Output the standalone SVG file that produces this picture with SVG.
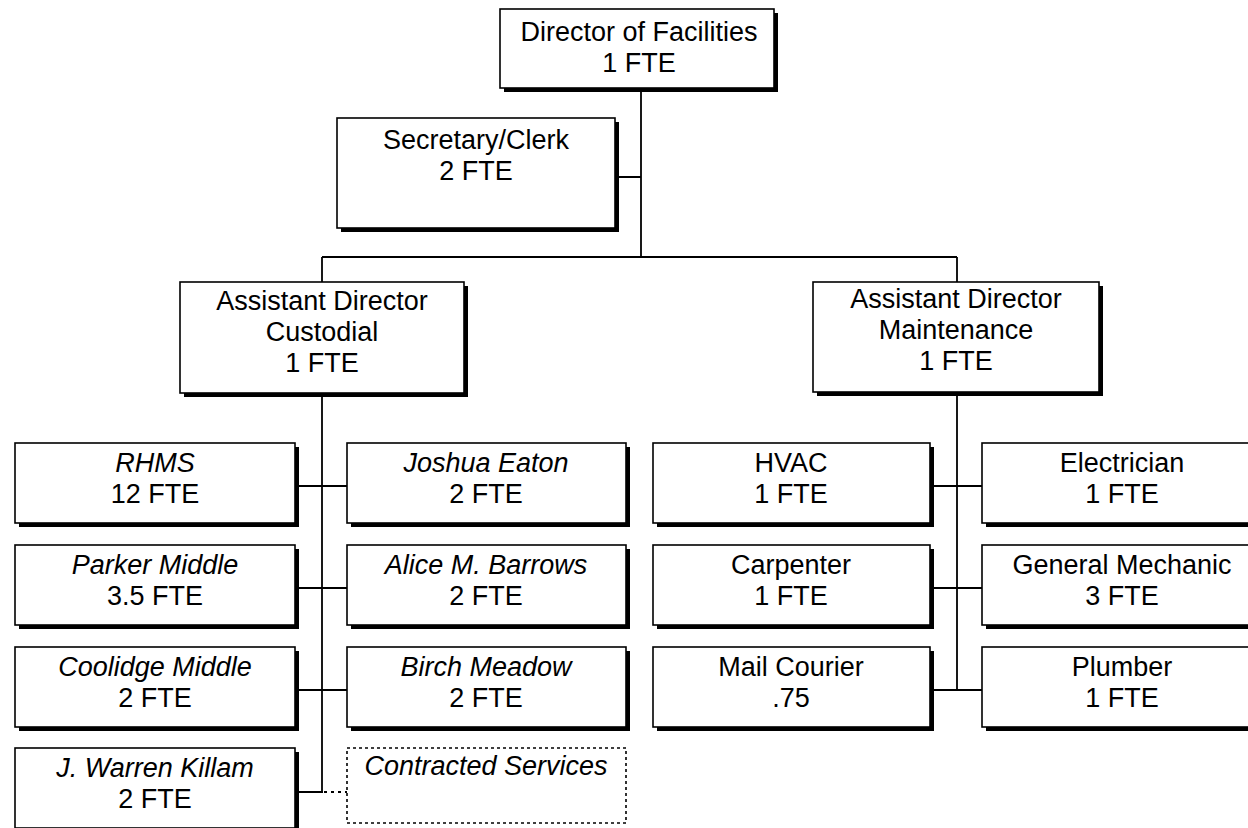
<svg xmlns="http://www.w3.org/2000/svg" width="1248" height="828" viewBox="0 0 1248 828">
<style>
.sh{fill:#000}
.bx{fill:#fff;stroke:#000;stroke-width:1.6}
.dbx{fill:#fff;stroke:#000;stroke-width:1.6;stroke-dasharray:3 3}
.ln{fill:none;stroke:#000;stroke-width:1.8}
.dl{fill:none;stroke:#000;stroke-width:1.8;stroke-dasharray:3 4}
text{font-family:"Liberation Sans",Arial,sans-serif;font-size:27px;fill:#000;text-anchor:middle}
.it{font-style:italic}
</style>
<rect width="1248" height="828" fill="#fff"/>
<g id="connectors">
<path class="ln" d="M641 88V257M615 177H641M322 257H957M322 257V282M957 257V282"/>
<path class="ln" d="M322 393V792M295 486H347M295 588H347M295 690H347M295 792H323"/>
<path class="dl" d="M324 792H347"/>
<path class="ln" d="M957 392V690M930 486H982M930 588H982M930 690H982"/>
</g>
<g id="director">
<rect class="sh" x="504" y="13" width="274" height="79"/>
<rect class="bx" x="500" y="9" width="274" height="79"/>
<text x="639" y="41">Director of Facilities</text>
<text x="639" y="72">1 FTE</text>
</g>
<g id="secretary">
<rect class="sh" x="341" y="122" width="278" height="110"/>
<rect class="bx" x="337" y="118" width="278" height="110"/>
<text x="476" y="149">Secretary/Clerk</text>
<text x="476" y="180">2 FTE</text>
</g>
<g id="ad-custodial">
<rect class="sh" x="184" y="286" width="284" height="111"/>
<rect class="bx" x="180" y="282" width="284" height="111"/>
<text x="322" y="310">Assistant Director</text>
<text x="322" y="341">Custodial</text>
<text x="322" y="372">1 FTE</text>
</g>
<g id="ad-maintenance">
<rect class="sh" x="817" y="286" width="286" height="110"/>
<rect class="bx" x="813" y="282" width="286" height="110"/>
<text x="956" y="308">Assistant Director</text>
<text x="956" y="339">Maintenance</text>
<text x="956" y="370">1 FTE</text>
</g>
<g id="rhms">
<rect class="sh" x="19" y="447" width="280" height="80"/>
<rect class="bx" x="15" y="443" width="280" height="80"/>
<text class="it" x="155" y="472">RHMS</text>
<text x="155" y="503">12 FTE</text>
</g>
<g id="parker">
<rect class="sh" x="19" y="549" width="280" height="80"/>
<rect class="bx" x="15" y="545" width="280" height="80"/>
<text class="it" x="155" y="574">Parker Middle</text>
<text x="155" y="605">3.5 FTE</text>
</g>
<g id="coolidge">
<rect class="sh" x="19" y="651" width="280" height="80"/>
<rect class="bx" x="15" y="647" width="280" height="80"/>
<text class="it" x="155" y="676">Coolidge Middle</text>
<text x="155" y="707">2 FTE</text>
</g>
<g id="killam">
<rect class="sh" x="19" y="752" width="280" height="80"/>
<rect class="bx" x="15" y="748" width="280" height="80"/>
<text class="it" x="155" y="777">J. Warren Killam</text>
<text x="155" y="808">2 FTE</text>
</g>
<g id="joshua-eaton">
<rect class="sh" x="351" y="447" width="279" height="80"/>
<rect class="bx" x="347" y="443" width="279" height="80"/>
<text class="it" x="486" y="472">Joshua Eaton</text>
<text x="486" y="503">2 FTE</text>
</g>
<g id="alice-barrows">
<rect class="sh" x="351" y="549" width="279" height="80"/>
<rect class="bx" x="347" y="545" width="279" height="80"/>
<text class="it" x="486" y="574">Alice M. Barrows</text>
<text x="486" y="605">2 FTE</text>
</g>
<g id="birch-meadow">
<rect class="sh" x="351" y="651" width="279" height="80"/>
<rect class="bx" x="347" y="647" width="279" height="80"/>
<text class="it" x="486" y="676">Birch Meadow</text>
<text x="486" y="707">2 FTE</text>
</g>
<g id="contracted">
<rect class="dbx" x="347" y="748" width="279" height="75"/>
<text class="it" x="486" y="775">Contracted Services</text>
</g>
<g id="hvac">
<rect class="sh" x="657" y="447" width="277" height="80"/>
<rect class="bx" x="653" y="443" width="277" height="80"/>
<text x="791" y="472">HVAC</text>
<text x="791" y="503">1 FTE</text>
</g>
<g id="carpenter">
<rect class="sh" x="657" y="549" width="277" height="80"/>
<rect class="bx" x="653" y="545" width="277" height="80"/>
<text x="791" y="574">Carpenter</text>
<text x="791" y="605">1 FTE</text>
</g>
<g id="mail-courier">
<rect class="sh" x="657" y="651" width="277" height="80"/>
<rect class="bx" x="653" y="647" width="277" height="80"/>
<text x="791" y="676">Mail Courier</text>
<text x="791" y="707">.75</text>
</g>
<g id="electrician">
<rect class="sh" x="986" y="447" width="280" height="80"/>
<rect class="bx" x="982" y="443" width="280" height="80"/>
<text x="1122" y="472">Electrician</text>
<text x="1122" y="503">1 FTE</text>
</g>
<g id="general-mechanic">
<rect class="sh" x="986" y="549" width="280" height="80"/>
<rect class="bx" x="982" y="545" width="280" height="80"/>
<text x="1122" y="574">General Mechanic</text>
<text x="1122" y="605">3 FTE</text>
</g>
<g id="plumber">
<rect class="sh" x="986" y="651" width="280" height="80"/>
<rect class="bx" x="982" y="647" width="280" height="80"/>
<text x="1122" y="676">Plumber</text>
<text x="1122" y="707">1 FTE</text>
</g>
</svg>
